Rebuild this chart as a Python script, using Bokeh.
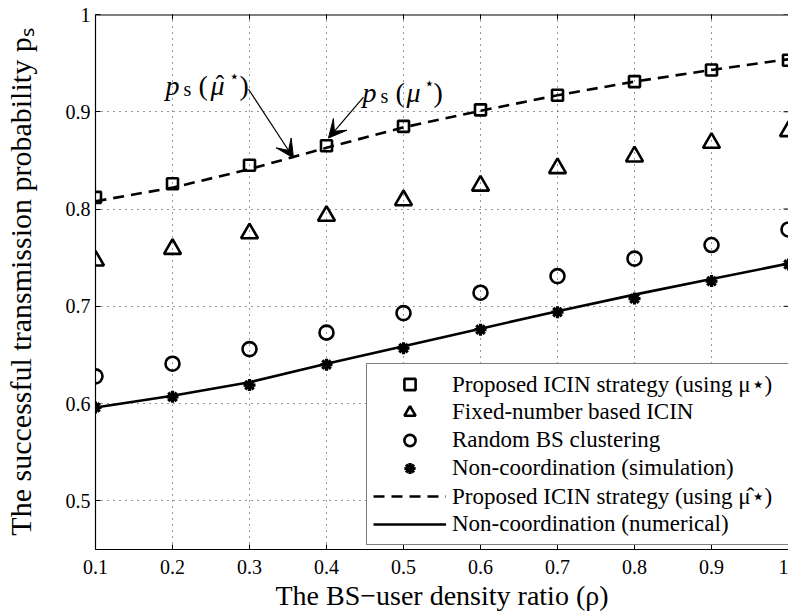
from math import pi
from bokeh.plotting import figure
from bokeh.models import (FixedTicker, PrintfTickFormatter, Label,
                          Arrow, VeeHead, Legend, LegendItem, Range1d)
from bokeh.embed import file_html
from bokeh.resources import INLINE

# ---------------- data ----------------
rho = [0.1, 0.2, 0.3, 0.4, 0.5, 0.6, 0.7, 0.8, 0.9, 1.0]
icin_mu_star = [0.812, 0.826, 0.845, 0.865, 0.885, 0.902, 0.917, 0.931, 0.943, 0.953]
fixed_number = [0.747, 0.759, 0.775, 0.793, 0.809, 0.824, 0.842, 0.854, 0.868, 0.880]
random_cluster = [0.628, 0.641, 0.656, 0.673, 0.693, 0.714, 0.731, 0.749, 0.763, 0.779]
noncoord_sim = [0.596, 0.607, 0.619, 0.640, 0.657, 0.676, 0.694, 0.708, 0.726, 0.743]
icin_mu_hat = [0.808, 0.822, 0.841, 0.863, 0.884, 0.901, 0.917, 0.931, 0.943, 0.954]
noncoord_num = [0.596, 0.608, 0.622, 0.641, 0.659, 0.677, 0.695, 0.712, 0.728, 0.744]
x_ticks = [0.1, 0.2, 0.3, 0.4, 0.5, 0.6, 0.7, 0.8, 0.9, 1.0]
y_ticks = [0.5, 0.6, 0.7, 0.8, 0.9, 1.0]
legend_labels = [
    "Proposed ICIN strategy (using \u03bc\u22c6)",
    "Fixed-number based ICIN",
    "Random BS clustering",
    "Non-coordination (simulation)",
    "Proposed ICIN strategy (using \u03bc\u0302\u22c6)",
    "Non-coordination (numerical)",
]
x_label = "The BS\u2212user density ratio (\u03c1)"
y_label = "The successful transmission probability p\u209b"

# ---------------- layout ----------------
FONT = "Liberation Serif"
W, H = 788, 613
ML, MR, MT, MB = 95, 0, 14, 62
X0, X1, Y0, Y1 = 0.1, 1.0, 0.45, 1.0
FW, FH = W - ML - MR, H - MT - MB
PL, PB = ML, MT + FH   # page coords of frame left / bottom


def dx(px):
    return X0 + (px - PL) / FW * (X1 - X0)


def dy(py):
    return Y0 + (PB - py) / FH * (Y1 - Y0)


p = figure(width=W, height=H, title=None,
           x_range=Range1d(X0, X1), y_range=Range1d(Y0, Y1),
           output_backend="svg", toolbar_location=None,
           min_border_left=ML, min_border_right=MR,
           min_border_top=MT, min_border_bottom=MB)
p.outline_line_color = None
p.background_fill_color = "white"
p.border_fill_color = "white"

p.xaxis.ticker = FixedTicker(ticks=x_ticks)
p.yaxis.ticker = FixedTicker(ticks=y_ticks)
for ax in [p.xaxis[0], p.yaxis[0]]:
    ax.formatter = PrintfTickFormatter(format="%g")
    ax.major_tick_in = 5
    ax.major_tick_out = 0
    ax.minor_tick_line_color = None
    ax.axis_line_color = "black"
    ax.axis_line_width = 1.2
    ax.major_tick_line_color = "black"
    ax.major_label_text_font = FONT
    ax.major_label_text_font_size = "20px"
    ax.major_label_text_color = "black"
    ax.axis_label_text_font = FONT
    ax.axis_label_text_font_style = "normal"
    ax.axis_label_text_color = "black"
p.xaxis.major_label_standoff = 10
p.xaxis.axis_label = x_label
p.xaxis.axis_label_text_font_size = "28px"
p.xaxis.axis_label_standoff = 3
p.yaxis.major_label_standoff = 5
p.yaxis.axis_label = y_label
p.yaxis.axis_label_text_font_size = "30px"
p.yaxis.axis_label_standoff = 26

p.xgrid.ticker = FixedTicker(ticks=x_ticks)
p.ygrid.ticker = FixedTicker(ticks=y_ticks)
for g in [p.xgrid[0], p.ygrid[0]]:
    g.grid_line_color = "#333333"
    g.grid_line_dash = "1 5"
    g.grid_line_width = 1

# top frame line and inward ticks on top / right (frame-clipped half dashes)
p.line([X0, X1], [Y1, Y1], line_color="black", line_width=2)
p.scatter(x_ticks, [Y1] * len(x_ticks), marker="dash", angle=pi / 2, size=10,
          line_color="black", line_width=1)
p.scatter([X1] * len(y_ticks), y_ticks, marker="dash", size=10,
          line_color="black", line_width=1)

# ---------------- glyphs ----------------
r_dash = p.line(rho, icin_mu_hat, line_color="black", line_width=2.6, line_dash="11 7")
r_solid = p.line(rho, noncoord_num, line_color="black", line_width=2.6)
r_sq = p.scatter(rho, icin_mu_star, marker="square", size=11, line_width=2.6,
                 line_color="black", fill_color=None)
r_tri = p.scatter(rho, fixed_number, marker="triangle", size=17, line_width=2.6,
                  line_color="black", fill_color=None)
r_circ = p.scatter(rho, random_cluster, marker="circle", size=14, line_width=2.6,
                   line_color="black", fill_color=None)
r_ast = p.scatter(rho, noncoord_sim, marker="asterisk", size=12, line_width=3.2,
                  line_color="black")

legend = Legend(items=[
    LegendItem(label=legend_labels[0], renderers=[r_sq]),
    LegendItem(label=legend_labels[1], renderers=[r_tri]),
    LegendItem(label=legend_labels[2], renderers=[r_circ]),
    LegendItem(label=legend_labels[3], renderers=[r_ast]),
    LegendItem(label=legend_labels[4], renderers=[r_dash]),
    LegendItem(label=legend_labels[5], renderers=[r_solid]),
], location=(271, 4))
legend.label_text_font = FONT
legend.label_text_font_size = "23px"
legend.label_text_color = "black"
legend.glyph_width = 73
legend.glyph_height = 28
legend.label_height = 28
legend.label_standoff = 6
legend.label_width = 360
legend.spacing = 0
legend.padding = 6
legend.margin = 0
legend.border_line_color = "black"
legend.border_line_width = 1.5
legend.background_fill_color = "white"
legend.background_fill_alpha = 1
p.add_layout(legend)


# ---------------- annotation text ----------------
def lab(px, py, text, size, style="normal"):
    p.add_layout(Label(x=dx(px), y=dy(py), text=text,
                       text_font=FONT, text_font_size=f"{size}px", text_font_style=style,
                       text_color="black", text_align="left", text_baseline="alphabetic"))


# p_s(mu_hat*)
lab(165, 85, "p", 28, "italic")
lab(183, 89, "s", 20)
lab(198, 85, "(", 28)
lab(210, 85, "\u03bc", 28, "italic")
lab(215, 84, "\u02c6", 26)
lab(228, 76, "\u22c6", 17)
lab(239, 85, ")", 28)
# p_s(mu*)
lab(362, 92, "p", 28, "italic")
lab(380, 96, "s", 20)
lab(395, 92, "(", 28)
lab(406, 92, "\u03bc", 28, "italic")
lab(423, 83, "\u22c6", 17)
lab(433, 92, ")", 28)

for (xs, ys, xe, ye) in [(248, 89, 293, 158), (363, 97, 328, 138)]:
    p.add_layout(Arrow(x_start=dx(xs), y_start=dy(ys), x_end=dx(xe), y_end=dy(ye),
                       line_color="black", line_width=1.2,
                       end=VeeHead(size=18, fill_color="black", line_color="black")))

open("out.html", "w").write(file_html(p, INLINE))
